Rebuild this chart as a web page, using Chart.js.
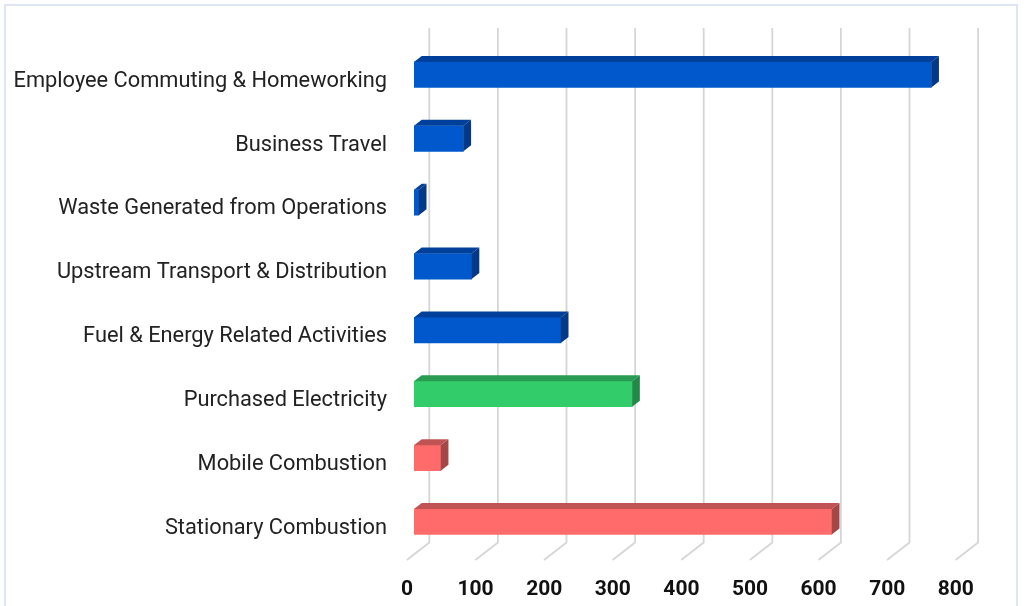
<!DOCTYPE html>
<html>
<head>
<meta charset="utf-8">
<script src="https://cdn.jsdelivr.net/npm/chart.js@4.4.1/dist/chart.umd.min.js"></script>
<style>
  html, body { margin: 0; padding: 0; background: #ffffff; }
  #wrap { position: relative; width: 1026px; height: 606px; overflow: hidden; }
  #frame { position: absolute; left: 4px; top: 4px; width: 1014px; height: 610px; border: 2px solid #dde6f2; box-sizing: border-box; pointer-events: none; }
  canvas { position: absolute; left: 0; top: 0; }
</style>
</head>
<body>
<div id="wrap">
  <canvas id="c" width="1026" height="606"></canvas>
  <div id="frame"></div>
</div>
<script>
// ---- data ----
const categories = [
  "Employee Commuting & Homeworking",
  "Business Travel",
  "Waste Generated from Operations",
  "Upstream Transport & Distribution",
  "Fuel & Energy Related Activities",
  "Purchased Electricity",
  "Mobile Combustion",
  "Stationary Combustion"
];
const emissions = [754, 72, 7, 84, 214, 318, 39, 609];
const scopeOfCategory = ["s3", "s3", "s3", "s3", "s3", "s2", "s1", "s1"];
const xTicks = [0, 100, 200, 300, 400, 500, 600, 700, 800];

// ---- styles ----
const palette = {
  s1: { front: "#ff6b6b", top: "#c05353", side: "#a64646" },
  s2: { front: "#33cc6b", top: "#279c52", side: "#208a47" },
  s3: { front: "#0059cc", top: "#00409b", side: "#00398a" }
};
const DX = 7.7, DY = 6;            // bar depth
const GX = 15.3, FX = 22.5, FY = 17.5; // gridline back offset / floor depth
const FLOOR_Y = 560, GRID_TOP = 28;

const threeD = {
  id: "threeD",
  beforeDatasetsDraw(chart) {
    const ctx = chart.ctx;
    const xs = chart.scales.x;
    ctx.save();
    ctx.strokeStyle = "#d6d6d6";
    ctx.lineWidth = 1.8;
    xTicks.forEach(v => {
      const bx = xs.getPixelForValue(v) + GX;
      ctx.beginPath();
      ctx.moveTo(bx, GRID_TOP);
      ctx.lineTo(bx, FLOOR_Y - FY);
      ctx.lineTo(bx - FX, FLOOR_Y);
      ctx.stroke();
    });
    ctx.restore();
  },
  afterDatasetsDraw(chart) {
    const ctx = chart.ctx;
    const meta = chart.getDatasetMeta(0);
    ctx.save();
    meta.data.forEach((bar, i) => {
      const p = palette[scopeOfCategory[i]];
      const props = bar.getProps(["x", "y", "base", "height"], true);
      const left = props.base, right = props.x;
      const top = props.y - props.height / 2, bottom = props.y + props.height / 2;
      // top face
      ctx.fillStyle = p.top;
      ctx.beginPath();
      ctx.moveTo(left, top);
      ctx.lineTo(left + DX, top - DY);
      ctx.lineTo(right + DX, top - DY);
      ctx.lineTo(right, top);
      ctx.closePath();
      ctx.fill();
      // side face
      ctx.fillStyle = p.side;
      ctx.beginPath();
      ctx.moveTo(right, top);
      ctx.lineTo(right + DX, top - DY);
      ctx.lineTo(right + DX, bottom - DY);
      ctx.lineTo(right, bottom);
      ctx.closePath();
      ctx.fill();
    });
    ctx.restore();
  }
};

new Chart(document.getElementById("c"), {
  type: "bar",
  data: {
    labels: categories,
    datasets: [{
      data: emissions,
      backgroundColor: scopeOfCategory.map(s => palette[s].front),
      borderWidth: 0,
      barThickness: 25.5
    }]
  },
  options: {
    indexAxis: "y",
    responsive: false,
    animation: false,
    events: [],
    layout: { padding: { top: 42.8, right: 63.2, left: 0, bottom: 0 } },
    plugins: { legend: { display: false }, tooltip: { enabled: false } },
    scales: {
      x: {
        min: 0, max: 800,
        afterBuildTicks(scale) { scale.ticks = xTicks.map(v => ({ value: v })); },
        afterFit(scale) { scale.height = 52.3; },
        grid: { display: false, drawTicks: false },
        border: { display: false },
        ticks: {
          padding: 23,
          labelOffset: -7,
          color: "#111111",
          font: { family: "Roboto", size: 21, weight: "bold" }
        }
      },
      y: {
        afterFit(scale) { scale.width = 414; },
        grid: { display: false, drawTicks: false },
        border: { display: false },
        ticks: {
          padding: 27,
          labelOffset: 6.5,
          color: "#222222",
          font: { family: "Roboto", size: 21.8 }
        }
      }
    }
  },
  plugins: [threeD]
});
</script>
</body>
</html>
